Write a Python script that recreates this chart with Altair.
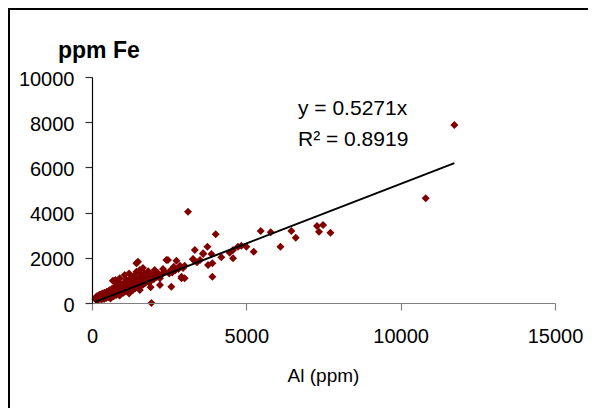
import altair as alt
import pandas as pd

# ---- data ----
al = [110, 130, 150, 160, 180, 200, 210, 230, 250, 260, 280, 300, 310, 330, 350, 370, 390, 400, 420, 440, 460, 480, 500,
      520, 540, 560, 580, 600, 620, 640, 650, 680, 700, 720, 740, 760, 780, 800, 820, 840, 860, 880, 900, 920, 940, 960, 980, 1000,
      1020, 1040, 1060, 1080, 1100, 1120, 1140, 1160, 1180, 1200, 1220, 1240, 1260, 1280, 1300, 1320, 1340, 1360, 1380, 1400, 1420, 1440, 1440, 1490, 1460, 1480,
      1520, 1540, 1560, 1580, 1600, 1620, 1640, 1660, 1680, 1700, 1720, 1740, 1760, 1780, 1800, 1820, 1850, 1880, 1900, 1925, 1950, 1980, 2000,
      2030, 2060, 2100, 2150, 2200, 2250, 2300, 2355, 2410, 2460, 2500, 2550, 2570, 2600, 2650, 2700, 2735, 2800, 2850, 2900, 2900, 2950, 3000, 3000,
      3110, 3275, 3275, 3330, 3400, 3500, 3600, 3600, 3740, 3760, 3870, 3900, 3900, 4008, 4190, 4460, 4570, 4570, 4730, 4840, 5002, 5239,
      5466, 5790, 6104, 6460, 6600, 7290, 7485, 7355, 7724, 10810, 11740,
      675, 760, 850, 900, 1060, 1100, 1200, 1300, 1550, 1650, 600, 900, 1200, 1550, 1900, 2200]
fe = [180, 250, 120, 300, 210, 150, 330, 260, 180, 380, 240, 310, 150, 420, 230, 300, 180, 450, 280, 350, 220, 500, 300,
      400, 250, 560, 330, 420, 280, 620, 380, 480, 300, 700, 420, 540, 350, 880, 460, 600, 380, 750, 500, 640, 430, 820, 560, 700,
      450, 900, 600, 520, 760, 980, 580, 660, 830, 500, 720, 1050, 620, 780, 900, 560, 700, 1200, 820, 650, 1000, 1385, 1755, 1830, 760, 900,
      1100, 700, 850, 1250, 780, 950, 1150, 820, 1000, 1300, 880, 1050, 1200, 950, 1100, 1400, 900, 1150, 1000, 0, 1250, 1100, 1050,
      1460, 1200, 1150, 1300, 1100, 1250, 1500, 1385, 1900, 1900, 1300, 1450, 720, 1350, 1600, 1450, 1870, 1500, 1650, 1090, 1165, 1550, 1090, 1650,
      4040, 1947, 1930, 2345, 1800, 1900, 2170, 2200, 2490, 1680, 2170, 1755, 1165, 3040, 2020, 2226, 2345, 1975, 2490, 2536, 2491, 2270,
      3186, 3128, 2491, 3186, 2890, 3407, 3452, 3155, 3110, 4633, 7877,
      980, 1020, 950, 1100, 1240, 1050, 1300, 1150, 1460, 1550, 200, 330, 420, 575, 700, 800]

slope = 0.5271
trend_al = [100, 11740]
trend_fe = [slope * v for v in trend_al]

x_ticks = [0, 5000, 10000, 15000]
y_ticks = [0, 2000, 4000, 6000, 8000, 10000]

# ---- layout ----
W, H = 463, 226
PL, PT, PR, PB = 84, 69, 33, 105
FONT = "Liberation Sans"

pts = pd.DataFrame({"al": al, "fe": fe})
trend = pd.DataFrame({"al": trend_al, "fe": trend_fe})
one = pd.DataFrame({"k": [0]})

xs = alt.Scale(domain=[0, 15000], nice=False, zero=True)
ys = alt.Scale(domain=[0, 10000], nice=False, zero=True)

frame = alt.Chart(one).mark_rect(fill="white", stroke="black", strokeWidth=2).encode(
    x=alt.value(-PL + 1), x2=alt.value(W + PR + 20),
    y=alt.value(-PT + 1), y2=alt.value(H + PB + 20),
)

scatter = alt.Chart(pts).mark_point(
    shape="diamond", filled=True, color="#800000", size=64, opacity=1
).encode(
    x=alt.X("al:Q", scale=xs, axis=alt.Axis(
        values=x_ticks, title=None, format="d", domainColor="#808080", tickColor="#808080",
        labelPadding=16, tickSize=7, zindex=1, labelFlush=False)),
    y=alt.Y("fe:Q", scale=ys, axis=alt.Axis(
        values=y_ticks, title=None, format="d", domainColor="#000000", tickColor="#333333",
        labelPadding=11, tickSize=7, labelOffset=2, zindex=1, labelFlush=False)),
)

line = alt.Chart(trend).mark_line(color="black", strokeWidth=2).encode(
    x=alt.X("al:Q", scale=xs), y=alt.Y("fe:Q", scale=ys)
)

ytitle = alt.Chart(one).mark_text(
    text="ppm Fe", font=FONT, fontSize=23, fontWeight="bold", align="left", baseline="alphabetic", color="black"
).encode(x=alt.value(-34), y=alt.value(-19))

xtitle = alt.Chart(one).mark_text(
    text="Al (ppm)", font=FONT, fontSize=19, align="center", baseline="middle", color="black"
).encode(x=alt.value(W / 2), y=alt.value(299))

eq1 = alt.Chart(one).mark_text(
    text="y = 0.5271x", font=FONT, fontSize=21, align="left", baseline="alphabetic", color="black"
).encode(x=alt.value(206), y=alt.value(38))

eq2 = alt.Chart(one).mark_text(
    text="R² = 0.8919", font=FONT, fontSize=21, align="left", baseline="alphabetic", color="black"
).encode(x=alt.value(206), y=alt.value(69))

chart = alt.layer(frame, scatter, line, ytitle, xtitle, eq1, eq2).properties(
    width=W, height=H,
    padding={"left": PL, "top": PT, "right": PR, "bottom": PB},
    autosize=alt.AutoSizeParams(type="none"),
    background="white",
).configure_view(stroke=None).configure_axis(
    grid=False, labelFont=FONT, labelFontSize=20, labelColor="black",
    domainWidth=1.2, tickWidth=1.2,
)

chart.save("out.html", embed_options={"renderer": "svg", "actions": False})
